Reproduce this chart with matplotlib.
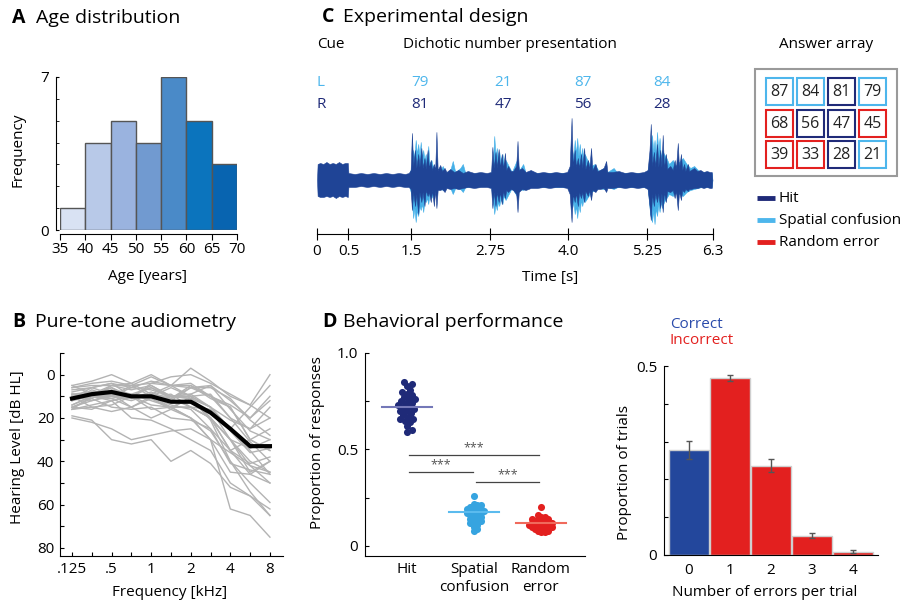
import matplotlib
matplotlib.use('Agg')
import matplotlib.pyplot as plt
from matplotlib.patches import Rectangle
import numpy as np

plt.rcParams['font.family'] = ['Open Sans', 'DejaVu Sans']
plt.rcParams['font.size'] = 11

# ---------------- data ----------------
# A: age histogram
age_edges = [35, 40, 45, 50, 55, 60, 65, 70]
age_counts = [1, 4, 5, 4, 7, 5, 3]
hist_colors = ['#d9e2f3', '#b8c9e8', '#9ab3df', '#719ad0', '#4a8ac8', '#0b74bd', '#0864b0']

# B: audiometry (11 standard frequencies, dB HL)
freq_labels = ['.125', '', '.5', '', '1', '', '2', '', '4', '', '8']
hl_mean = [11, 9, 8, 10, 10, 12.5, 12.5, 17.5, 25, 33, 33]
hl_subjects = [
    [5, 3, 0, 4, 0, 5, -3, 3, 10, 14, 0],
    [8, 6, 4, 6, 3, 5, 6, 5, 12, 20, 10],
    [12, 10, 7, 9, 6, 10, 9, 5, 16, 26, 30],
    [15, 12, 10, 11, 8, 12, 6, 10, 15, 30, 25],
    [6, 4, 3, 5, 4, 1, 0, 4, 9, 14, 20],
    [9, 8, 10, 6, 7, 10, 11, 15, 25, 35, 46],
    [16, 14, 12, 10, 14, 15, 15, 20, 30, 42, 45],
    [20, 22, 25, 30, 28, 26, 25, 30, 36, 42, 50],
    [19, 21, 30, 32, 30, 40, 35, 41, 52, 56, 62],
    [11, 6, 9, 11, 10, 6, 10, 20, 35, 46, 50],
    [14, 10, 11, 9, 12, 15, 20, 30, 62, 65, 75],
    [10, 9, 5, 7, 5, 10, 11, 21, 40, 54, 65],
    [7, 6, 4, 10, 6, 11, 5, 10, 20, 31, 40],
    [10, 12, 9, 15, 11, 16, 10, 15, 26, 36, 34],
    [15, 11, 15, 16, 15, 20, 21, 25, 41, 44, 46],
    [9, 10, 6, 11, 4, 5, 10, 9, 20, 25, 15],
    [12, 7, 10, 5, 10, 9, 15, 16, 30, 45, 40],
    [5, 9, 10, 12, 9, 11, 6, 6, 11, 21, 28],
    [16, 15, 17, 15, 20, 16, 20, 26, 40, 50, 59],
    [10, 11, 5, 4, 9, 5, 5, 11, 15, 30, 35],
    [11, 10, 12, 10, 11, 15, 11, 20, 35, 41, 38],
    [14, 10, 9, 10, 5, 10, 10, 15, 21, 25, 20],
    [6, 5, 5, 5, 1, 5, 4, 10, 14, 20, 12],
    [10, 15, 14, 10, 16, 15, 20, 30, 45, 46, 40],
    [10, 9, 6, 10, 10, 11, 15, 20, 30, 34, 30],
    [15, 16, 12, 20, 21, 25, 30, 35, 50, 56, 65],
    [9, 10, 10, 10, 11, 10, 9, 15, 25, 15, 5],
    [16, 10, 11, 15, 10, 14, 16, 25, 35, 30, 35],
    [12, 8, 8, 10, 10, 15, 15, 20, 30, 40, 45],
]

# C: waveform envelopes (time s, upper, lower amplitude)
r_env = [
    (0.00, 0, 0), (0.01, 16, 16), (0.05, 17, 17), (0.10, 16, 17), (0.15, 18, 16),
    (0.20, 16, 17), (0.25, 17, 16), (0.30, 16, 18), (0.35, 18, 16), (0.40, 16, 17),
    (0.45, 17, 16), (0.49, 17, 17), (0.50, 7, 7), (0.60, 6, 7), (0.70, 7, 6),
    (0.80, 6, 7), (0.90, 7, 6), (1.00, 6, 7), (1.10, 7, 6), (1.20, 6, 7),
    (1.30, 7, 6), (1.40, 6, 7), (1.46, 7, 7),
    (1.49, 10, 9), (1.51, 47, 30), (1.53, 14, 12), (1.56, 30, 26), (1.58, 12, 14),
    (1.61, 26, 34), (1.63, 13, 12), (1.66, 32, 22), (1.68, 12, 12), (1.71, 22, 26),
    (1.73, 11, 10), (1.76, 30, 16), (1.78, 12, 12), (1.81, 20, 22), (1.83, 10, 10),
    (1.86, 16, 26), (1.88, 10, 10), (1.90, 48, 28), (1.92, 10, 10), (1.96, 15, 10),
    (1.99, 9, 9), (2.03, 12, 12), (2.06, 8, 8), (2.12, 11, 9), (2.18, 8, 8),
    (2.25, 10, 9), (2.32, 7, 8), (2.40, 9, 7), (2.50, 7, 8), (2.60, 8, 7),
    (2.70, 7, 7), (2.77, 8, 8),
    (2.79, 33, 28), (2.81, 12, 12), (2.84, 28, 26), (2.86, 12, 12), (2.89, 31, 22),
    (2.91, 12, 12), (2.94, 26, 24), (2.96, 11, 11), (2.99, 27, 18), (3.01, 10, 10),
    (3.04, 14, 12), (3.08, 9, 9), (3.12, 9, 10), (3.17, 14, 14), (3.19, 39, 32),
    (3.21, 10, 12), (3.26, 12, 9), (3.32, 8, 10), (3.40, 10, 8), (3.50, 7, 8),
    (3.60, 8, 7), (3.70, 7, 8), (3.80, 8, 7), (3.90, 7, 7), (3.98, 8, 8),
    (4.02, 14, 14), (4.05, 62, 42), (4.07, 14, 14), (4.10, 30, 22), (4.12, 13, 13),
    (4.15, 22, 26), (4.17, 12, 12), (4.20, 26, 18), (4.22, 12, 12), (4.25, 32, 22),
    (4.27, 11, 11), (4.31, 20, 16), (4.33, 10, 10), (4.36, 32, 20), (4.38, 10, 10),
    (4.43, 16, 12), (4.46, 9, 9), (4.50, 10, 9), (4.56, 12, 8), (4.60, 19, 12),
    (4.62, 8, 8), (4.70, 8, 8), (4.80, 9, 7), (4.90, 7, 8), (5.00, 8, 7),
    (5.10, 7, 8), (5.20, 8, 7), (5.26, 10, 9),
    (5.29, 30, 26), (5.31, 56, 40), (5.33, 14, 14), (5.36, 28, 26), (5.38, 13, 13),
    (5.41, 36, 22), (5.43, 13, 13), (5.46, 30, 28), (5.48, 13, 13), (5.50, 45, 32),
    (5.52, 12, 12), (5.55, 26, 22), (5.57, 11, 11), (5.62, 14, 12), (5.66, 10, 10),
    (5.69, 20, 18), (5.71, 11, 11), (5.74, 37, 30), (5.76, 11, 11), (5.79, 26, 20),
    (5.81, 10, 10), (5.84, 16, 12), (5.86, 9, 9), (5.90, 16, 11), (5.92, 9, 9),
    (5.95, 10, 9), (6.00, 12, 8), (6.05, 9, 8), (6.10, 10, 7), (6.15, 8, 8),
    (6.20, 9, 7), (6.25, 8, 8), (6.28, 8, 8), (6.29, 0, 0),
]
l_env = [
    (0.50, 0, 0), (0.51, 5, 5), (1.46, 5, 5), (1.50, 12, 14), (1.53, 30, 38),
    (1.55, 22, 28), (1.57, 40, 42), (1.59, 26, 30), (1.61, 36, 36), (1.63, 24, 26),
    (1.65, 38, 30), (1.67, 22, 24), (1.69, 30, 32), (1.71, 20, 20), (1.73, 26, 22),
    (1.75, 18, 18), (1.77, 34, 24), (1.79, 16, 14), (1.82, 20, 18), (1.85, 12, 14),
    (1.90, 10, 10), (1.95, 8, 8), (2.00, 14, 10), (2.05, 7, 7), (2.12, 10, 8),
    (2.16, 19, 14), (2.20, 8, 8), (2.28, 12, 9), (2.32, 16, 12), (2.36, 7, 7),
    (2.77, 6, 6), (2.80, 20, 22), (2.82, 44, 34), (2.84, 24, 24), (2.86, 32, 30),
    (2.88, 20, 22), (2.90, 28, 26), (2.92, 18, 18), (2.95, 26, 24), (2.97, 16, 16),
    (3.00, 20, 20), (3.05, 14, 14), (3.10, 8, 8), (3.18, 20, 16), (3.22, 10, 9),
    (3.28, 16, 10), (3.32, 7, 7), (4.02, 7, 7), (4.06, 30, 28), (4.08, 22, 22),
    (4.10, 40, 34), (4.12, 26, 26), (4.14, 42, 38), (4.16, 24, 24), (4.18, 36, 32),
    (4.20, 22, 20), (4.22, 32, 26), (4.24, 18, 18), (4.26, 26, 22), (4.30, 20, 18),
    (4.36, 14, 12), (4.42, 16, 10), (4.48, 9, 8), (4.56, 12, 9), (4.62, 8, 7),
    (4.72, 12, 9), (4.78, 7, 7), (5.26, 7, 7), (5.30, 30, 34), (5.33, 45, 42),
    (5.35, 28, 30), (5.37, 40, 44), (5.39, 26, 28), (5.41, 48, 36), (5.43, 28, 24),
    (5.45, 42, 32), (5.47, 22, 22), (5.49, 30, 28), (5.52, 26, 22), (5.56, 22, 18),
    (5.60, 16, 14), (5.66, 20, 16), (5.70, 14, 12), (5.76, 18, 14), (5.82, 22, 16),
    (5.88, 16, 12), (5.94, 12, 10), (6.00, 14, 9), (6.06, 10, 8), (6.12, 8, 7),
    (6.28, 7, 7), (6.29, 0, 0),
]
time_ticks = [0, 0.5, 1.5, 2.75, 4.0, 5.25, 6.3]
time_labels = ['0', '0.5', '1.5', '2.75', '4.0', '5.25', '6.3']
pair_times = [1.64, 2.96, 4.23, 5.49]
left_nums = ['79', '21', '87', '84']
right_nums = ['81', '47', '56', '28']

answer_nums = [['87', '84', '81', '79'], ['68', '56', '47', '45'], ['39', '33', '28', '21']]
answer_type = [['S', 'S', 'H', 'S'], ['R', 'H', 'H', 'R'], ['R', 'R', 'H', 'S']]

# D: behavioural performance
cats = ['Hit', 'Spatial\nconfusion', 'Random\nerror']
hit_vals = [0.85, 0.84, 0.83, 0.81, 0.80, 0.79, 0.78, 0.77, 0.76, 0.76, 0.75, 0.74, 0.74, 0.73,
            0.72, 0.72, 0.71, 0.70, 0.70, 0.69, 0.68, 0.67, 0.66, 0.66, 0.65, 0.64, 0.62, 0.60, 0.59]
spat_vals = [0.26, 0.22, 0.21, 0.21, 0.20, 0.20, 0.19, 0.19, 0.19, 0.18, 0.18, 0.18, 0.17, 0.17,
             0.17, 0.16, 0.16, 0.15, 0.15, 0.14, 0.14, 0.13, 0.13, 0.12, 0.12, 0.11, 0.10, 0.09, 0.08]
rand_vals = [0.20, 0.16, 0.15, 0.15, 0.14, 0.14, 0.14, 0.13, 0.13, 0.13, 0.12, 0.12, 0.12, 0.12,
             0.11, 0.11, 0.11, 0.11, 0.10, 0.10, 0.10, 0.10, 0.09, 0.09, 0.09, 0.08, 0.08, 0.07, 0.07]
resp_means = [0.72, 0.175, 0.12]
sig_pairs = [(1, 3, 0.47), (1, 2, 0.383), (2, 3, 0.33)]

n_errors = [0, 1, 2, 3, 4]
trial_prop = [0.277, 0.469, 0.236, 0.051, 0.009]
trial_err = [0.024, 0.008, 0.017, 0.006, 0.003]

NAVY = '#1f2a78'
LIGHT = '#4db6ec'
RED = '#e3201f'
WAVE_DARK = '#1f4496'
WAVE_LIGHT = '#45b0e8'

W, H = 912, 606
fig = plt.figure(figsize=(W / 100, H / 100), dpi=100)


def rect(l, t, r, b):
    return [l / W, 1 - b / H, (r - l) / W, (b - t) / H]


def ftext(x, y, s, **kw):
    return fig.text(x / W, 1 - y / H, s, **kw)


def title(x_letter, x_text, y, letter, s):
    ftext(x_letter, y, letter, fontsize=14, fontweight='bold', va='center')
    ftext(x_text, y, s, fontsize=14, va='center')


PT = 0.72  # points per pixel

# ---------------- A ----------------
axA = fig.add_axes(rect(60, 77, 237, 230))
axA.bar(age_edges[:-1], age_counts, width=5, align='edge', color=hist_colors,
        edgecolor='#555555', linewidth=1)
axA.set_xlim(35, 70)
axA.set_ylim(0, 7)
for s in ['top', 'right']:
    axA.spines[s].set_visible(False)
axA.spines['left'].set_position(('outward', 4 * PT))
axA.spines['bottom'].set_position(('outward', 4 * PT))
axA.set_xticks(age_edges)
axA.set_yticks([0, 7])
axA.set_yticks(range(1, 7), minor=True)
axA.tick_params(axis='x', direction='out', length=4, pad=2, labelsize=11)
axA.tick_params(axis='y', which='both', direction='in', length=2.5, pad=5, labelsize=11)
title(12, 36, 18, 'A', 'Age distribution')
ftext(18, 150, 'Frequency', rotation=90, ha='center', va='center', fontsize=11)
ftext(148, 277, 'Age [years]', ha='center', va='center', fontsize=11)

# ---------------- B ----------------
axB = fig.add_axes(rect(60, 353, 283, 556))
pos = np.arange(len(freq_labels))
for row in hl_subjects:
    axB.plot(pos, row, color='#b3b3b3', lw=1)
axB.plot(pos, hl_mean, color='black', lw=3)
axB.set_xlim(-0.606, 10.66)
axB.set_ylim(83.7, -9.1)
for s in ['top', 'right']:
    axB.spines[s].set_visible(False)
axB.set_xticks(pos)
axB.set_xticklabels(freq_labels)
axB.set_yticks(range(-10, 81, 10))
axB.set_yticklabels(['', '0', '', '20', '', '40', '', '60', '', '80'])
axB.tick_params(direction='in', length=3, labelsize=11)
axB.tick_params(axis='x', pad=4)
axB.tick_params(axis='y', pad=4)
title(12, 35, 322, 'B', 'Pure-tone audiometry')
ftext(18, 447, 'Hearing Level [dB HL]', rotation=90, ha='center', va='center', fontsize=11)
ftext(170, 593, 'Frequency [kHz]', ha='center', va='center', fontsize=11)

# ---------------- C ----------------
axC = fig.add_axes(rect(317, 110, 713, 250))
lt, lu, ld = map(np.array, zip(*l_env))
rt, ru, rd = map(np.array, zip(*r_env))
axC.fill_between(lt, -ld, lu, color=WAVE_LIGHT, lw=0.4)
axC.fill_between(rt, -rd, ru, color=WAVE_DARK, lw=0.4)
axC.set_xlim(0, 6.3)
axC.set_ylim(-70, 70)
for s in ['top', 'right', 'left']:
    axC.spines[s].set_visible(False)
axC.spines['bottom'].set_position(('data', -54))
axC.set_yticks([])
axC.set_xticks(time_ticks)
axC.set_xticklabels(time_labels)
axC.tick_params(axis='x', direction='inout', length=8, pad=3, labelsize=11)
for t, a, b in zip(pair_times, left_nums, right_nums):
    axC.text(t, 97, a, color=LIGHT, ha='center', va='center', fontsize=11)
    axC.text(t, 75, b, color=NAVY, ha='center', va='center', fontsize=11)
title(322, 343, 17, 'C', 'Experimental design')
ftext(317, 45, 'Cue', va='center', fontsize=11)
ftext(403, 45, 'Dichotic number presentation', va='center', fontsize=11)
ftext(317, 83, 'L', color=LIGHT, va='center', fontsize=11)
ftext(317, 105, 'R', color=NAVY, va='center', fontsize=11)
ftext(550, 277, 'Time [s]', ha='center', va='center', fontsize=11)

# answer array
axR = fig.add_axes(rect(740, 30, 912, 260))
axR.set_xlim(740, 912)
axR.set_ylim(260, 30)
axR.axis('off')
type_color = {'H': NAVY, 'S': LIGHT, 'R': RED}
axR.add_patch(Rectangle((755, 69), 142, 107, fc='none', ec='#9a9a9a', lw=1.5))
for r in range(3):
    for c in range(4):
        x0 = 766 + c * 31
        y0 = 78 + r * 31.5
        axR.add_patch(Rectangle((x0, y0), 27, 27, fc='none',
                                ec=type_color[answer_type[r][c]], lw=1.5))
        axR.text(x0 + 13.5, y0 + 14, answer_nums[r][c], ha='center', va='center',
                 fontsize=11.5, color='#222222')
axR.text(826, 45, 'Answer array', ha='center', va='center', fontsize=11)
for i, (lab, col) in enumerate([('Hit', NAVY), ('Spatial confusion', LIGHT),
                                 ('Random error', RED)]):
    y = 198 + i * 22
    axR.plot([757, 775], [y, y], color=col, lw=3.5, solid_capstyle='butt')
    axR.text(779, y, lab, va='center', fontsize=11)

# ---------------- D ----------------
axD = fig.add_axes(rect(365, 353, 585, 556))


def swarm(values, diam=4.6, step=1.0, ypx=193.0, xpx=67.0):
    vals = np.asarray(values)
    offs = np.zeros(len(vals))
    placed = []
    for i in np.argsort(vals):
        y = vals[i] * ypx
        k = 0
        done = False
        while not done:
            for x in ([0.0] if k == 0 else [k * step, -k * step]):
                if all((x - px) ** 2 + (y - py) ** 2 >= diam ** 2 for px, py in placed):
                    placed.append((x, y))
                    offs[i] = x / xpx
                    done = True
                    break
            k += 1
    return offs


dot_cols = [NAVY, '#36a4e0', RED]
mean_cols = ['#7478b8', '#5bbbee', '#f06a5c']
swarm_diam = [4.6, 3.2, 3.2]
for k, vals in enumerate([hit_vals, spat_vals, rand_vals]):
    xc = k + 1
    axD.scatter(xc + swarm(vals, diam=swarm_diam[k]), vals, s=26, color=dot_cols[k],
                lw=0, zorder=3)
    axD.plot([xc - 0.37, xc + 0.37], [resp_means[k]] * 2, color=mean_cols[k], lw=1.5, zorder=4)
for a, b, y in sig_pairs:
    axD.plot([a + 0.03, b - 0.02], [y, y], color='#444444', lw=0.9)
    axD.text((a + b) / 2, y + 0.005, '***', ha='center', va='bottom', fontsize=9, color='#555555')
axD.set_xlim(0.373, 3.66)
axD.set_ylim(-0.052, 1.0)
for s in ['top', 'right']:
    axD.spines[s].set_visible(False)
axD.set_xticks([1, 2, 3])
axD.set_xticklabels(cats, linespacing=1.3)
axD.set_yticks([0, 0.25, 0.5, 0.75, 1.0])
axD.set_yticklabels(['0', '', '0.5', '', '1.0'])
axD.tick_params(axis='x', length=0, pad=4, labelsize=11)
axD.tick_params(axis='y', direction='in', length=3, pad=5, labelsize=11)
title(322, 343, 322, 'D', 'Behavioral performance')
ftext(318, 443, 'Proportion of responses', rotation=90, ha='center', va='center', fontsize=11)

# ---------------- errors per trial ----------------
axE = fig.add_axes(rect(664, 366, 878, 555))
axE.bar(n_errors, trial_prop, width=0.97, color=['#23479c'] + [RED] * 4,
        edgecolor='#cfcfcf', linewidth=1)
axE.errorbar(n_errors, trial_prop, yerr=trial_err, fmt='none', ecolor='#555555',
             elinewidth=1, capsize=2)
axE.set_xlim(-0.61, 4.61)
axE.set_ylim(0, 0.5)
for s in ['top', 'right']:
    axE.spines[s].set_visible(False)
axE.set_xticks(n_errors)
axE.set_yticks([0, 0.1, 0.2, 0.3, 0.4, 0.5])
axE.set_yticklabels(['0', '', '', '', '', '0.5'])
axE.tick_params(axis='x', length=0, pad=6, labelsize=11)
axE.tick_params(axis='y', direction='in', length=3, pad=5, labelsize=11)
ftext(625, 473, 'Proportion of trials', rotation=90, ha='center', va='center', fontsize=11)
ftext(765, 593, 'Number of errors per trial', ha='center', va='center', fontsize=11)
ftext(670, 325, 'Correct', color='#2a4bab', va='center', fontsize=11)
ftext(670, 341, 'Incorrect', color=RED, va='center', fontsize=11)

fig.savefig('out.png', dpi=100)
